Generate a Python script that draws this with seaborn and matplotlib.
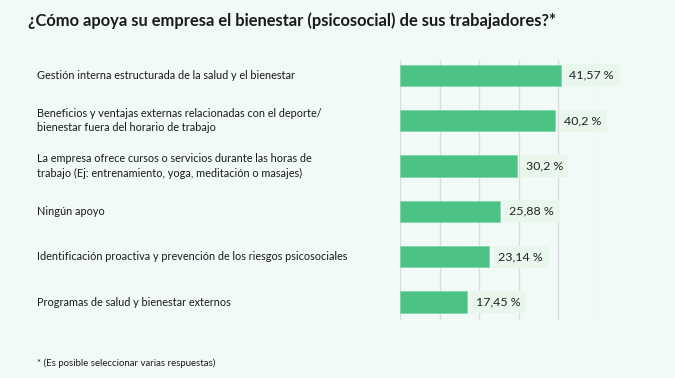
import matplotlib
matplotlib.use("Agg")
import matplotlib.pyplot as plt
import seaborn as sns
import pandas as pd
import numpy as np

categories = [
    "Gestión interna estructurada de la salud y el bienestar",
    "Beneficios y ventajas externas relacionadas con el deporte/\nbienestar fuera del horario de trabajo",
    "La empresa ofrece cursos o servicios durante las horas de\ntrabajo (Ej: entrenamiento, yoga, meditación o masajes)",
    "Ningún apoyo",
    "Identificación proactiva y prevención de los riesgos psicosociales",
    "Programas de salud y bienestar externos",
]
values = [41.57, 40.2, 30.2, 25.88, 23.14, 17.45]
value_labels = ["41,57 %", "40,2 %", "30,2 %", "25,88 %", "23,14 %", "17,45 %"]
title = "¿Cómo apoya su empresa el bienestar (psicosocial) de sus trabajadores?*"
footnote = "* (Es posible seleccionar varias respuestas)"

sns.set_theme(style="white")
plt.rcParams["font.family"] = ["Lato", "DejaVu Sans"]

BG = "#f2faf7"
BAR = "#4cc285"
df = pd.DataFrame({"cat": categories, "val": values})

fig = plt.figure(figsize=(6.75, 3.78), dpi=100, facecolor=BG)
ax = fig.add_axes([400 / 675, 1 - 320 / 378, 198 / 675, 260 / 378])
ax.set_facecolor(BG)

sns.barplot(data=df, x="val", y="cat", color=BAR, width=0.47, ax=ax,
            edgecolor="#7fd6a6", linewidth=0.6, saturation=1, zorder=3)

XMAX = 51.25
ax.set_xlim(0, XMAX)
ax.set_ylim(5.4, -0.34)
ax.set_xticks(np.linspace(0, XMAX, 6))
ax.xaxis.grid(True, color="#dcdcdc", linewidth=1.0, zorder=0)
ax.set_axisbelow(True)
for s in ax.spines.values():
    s.set_visible(False)
ax.set_xlabel("")
ax.set_ylabel("")
ax.set_xticklabels([])
ax.set_yticklabels([])
ax.tick_params(left=False, bottom=False)

for i, (v, lab) in enumerate(zip(values, value_labels)):
    ax.text(v + 2.3, i, lab, va="center", ha="left", fontsize=8.9, color="#222222",
            zorder=4, clip_on=False,
            bbox=dict(boxstyle="square,pad=0.45", facecolor="#e8f6ec", edgecolor="none"))

for i, c in enumerate(categories):
    y_fig = 1 - (75.3 + i * 45.35) / 378
    fig.text(37 / 675, y_fig, c, ha="left", va="center", fontsize=7.85,
             color="#1a1a1a", linespacing=1.35)

fig.text(28 / 675, 1 - 21 / 378, title, ha="left", va="center", fontsize=11.9,
         fontweight="bold", color="#1a1a1a")
fig.text(37 / 675, 1 - 363 / 378, footnote, ha="left", va="center", fontsize=6.95,
         color="#1a1a1a")

fig.savefig("out.png", dpi=100, facecolor=BG)
